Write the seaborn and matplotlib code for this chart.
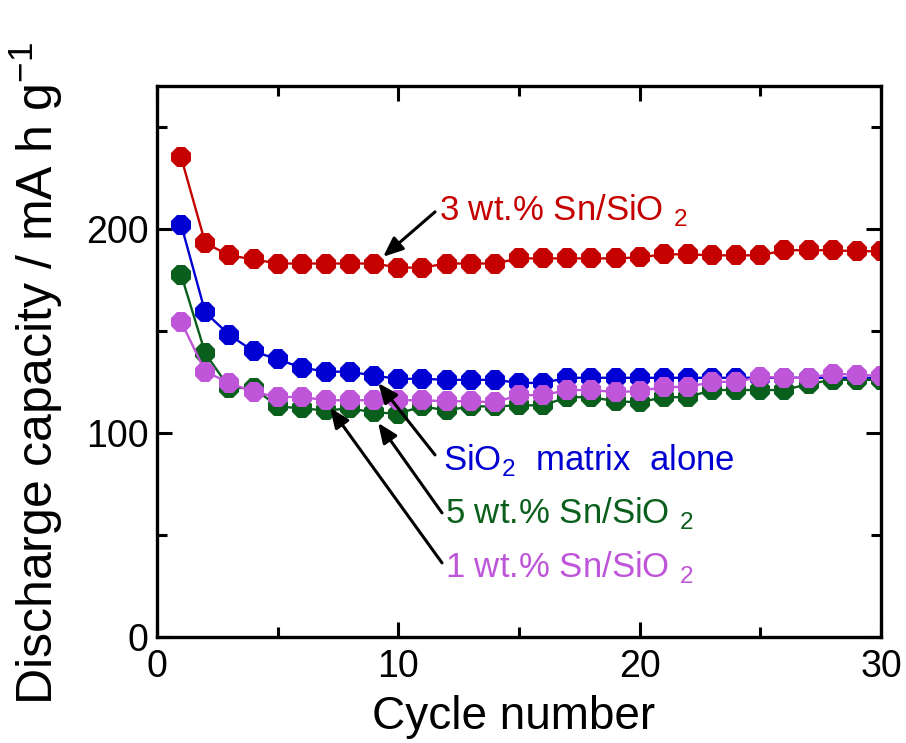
import numpy as np
import pandas as pd
import seaborn as sns
import matplotlib
matplotlib.use("Agg")
import matplotlib.pyplot as plt
from matplotlib import font_manager

# Discharge capacity (mA h g^-1) versus cycle number for each electrode
cycles = list(range(1, 31))
sn3 = [235, 193, 187, 185, 183, 183, 183, 183, 183, 181, 181, 183, 183, 183, 185.5,
       185.5, 185.5, 185.5, 185.5, 186, 187.5, 187.5, 187, 187, 187, 189.5, 189.5, 189.5, 189, 189]
sio2 = [202, 159, 148, 140, 136, 132, 130, 130, 128, 126.5, 126.5, 126, 126, 126, 124.5,
        124.5, 127, 127, 127, 127, 127, 127, 127, 127, 127, 127, 127, 127, 127, 127]
sn5 = [177.5, 139, 122, 122, 113, 112, 111, 112, 110, 109.5, 113, 111, 113, 113, 113.5,
       113.5, 117.5, 117.5, 115.5, 115, 117.5, 117.5, 121, 121, 121, 121, 124, 126, 126, 126]
sn1 = [154.5, 130, 124.5, 120, 117.6, 117.6, 116, 116, 116, 116, 116, 115.5, 115.5, 115, 118.5,
       118.5, 121, 121, 120, 120.5, 122.5, 122.5, 125, 125, 127.5, 127, 127, 129, 128.5, 128]

series_names = ["sio2", "sn5", "sn1", "sn3"]
series_values = [sio2, sn5, sn1, sn3]
series_colors = ["#0000D2", "#0A5F1C", "#BF55D8", "#C40000"]

label_texts = [
    "SiO$_\\mathregular{2}$  matrix  alone",
    "5 wt.% Sn/SiO $_\\mathregular{2}$",
    "1 wt.% Sn/SiO $_\\mathregular{2}$",
    "3 wt.% Sn/SiO $_\\mathregular{2}$",
]
# text anchor, arrow tail and arrow head, all in data units
label_pos = [(11.85, 86.5), (11.95, 60.8), (11.95, 34.3), (11.70, 209.0)]
arrow_tail = [(11.52, 89.2), (11.81, 60.8), (11.81, 36.3), (11.52, 208.3)]
arrow_head = [(9.17, 124.4), (9.16, 104.9), (7.17, 112.3), (9.37, 186.3)]

df = pd.DataFrame({
    "cycle": np.tile(cycles, len(series_names)),
    "capacity": np.concatenate(series_values),
    "sample": np.repeat(series_names, len(cycles)),
})

sns.set_theme(style="ticks")
available = {f.name for f in font_manager.fontManager.ttflist}
narrow = "Liberation Sans Narrow" if "Liberation Sans Narrow" in available else "Liberation Sans"
plt.rcParams["font.family"] = ["Liberation Sans", "DejaVu Sans"]
plt.rcParams["text.color"] = "black"
plt.rcParams["axes.labelcolor"] = "black"
plt.rcParams["xtick.color"] = "black"
plt.rcParams["ytick.color"] = "black"

fig = plt.figure(figsize=(9.06, 7.43), dpi=100)
ax = fig.add_axes([0.1733, 0.1427, 0.7991, 0.7416])

sns.lineplot(
    data=df, x="cycle", y="capacity", hue="sample", style="sample",
    hue_order=series_names, style_order=series_names,
    palette=dict(zip(series_names, series_colors)),
    markers={n: "8" for n in series_names}, dashes=False,
    markersize=15.5, markeredgewidth=0, linewidth=1.7,
    legend=False, ax=ax,
)

ax.set_xlim(0, 30)
ax.set_ylim(0, 270)
ax.set_xticks([0, 10, 20, 30])
ax.set_xticks([5, 15, 25], minor=True)
ax.set_yticks([0, 100, 200])
ax.set_yticks([50, 150, 250], minor=True)

tick_size = 29 if narrow != "Liberation Sans" else 27
tick_font = {"family": [narrow, "Liberation Sans"], "size": tick_size, "color": "black"}
ax.set_xticklabels(["0", "10", "20", "30"], fontdict=tick_font)
ax.set_yticklabels(["0", "100", "200"], fontdict=tick_font)

ax.tick_params(which="both", direction="in", top=True, right=True, width=2.2,
               color="black", labelcolor="black")
ax.tick_params(which="major", length=11, pad=6)
ax.tick_params(axis="x", which="major", pad=9)
ax.tick_params(which="minor", length=7)
for s in ax.spines.values():
    s.set_linewidth(2.4)
    s.set_color("black")

ax.set_xlabel("Cycle number", fontsize=33, color="black")
ax.set_ylabel("Discharge capacity / mA h g$^{\\mathregular{-1}}$", fontsize=36, color="black")
ax.xaxis.set_label_coords(0.493, -0.105)
ax.yaxis.set_label_coords(-0.127, 0.478)

text_size = 27 if narrow != "Liberation Sans" else 25
for txt, pos, tail, head, col in zip(label_texts, label_pos, arrow_tail, arrow_head, series_colors):
    ax.annotate("", xy=head, xytext=tail,
                arrowprops=dict(arrowstyle="-|>,head_length=1.0,head_width=0.42",
                                color="black", lw=2.2, shrinkA=0, shrinkB=0))
    ax.text(pos[0], pos[1], txt, color=col, fontsize=text_size, ha="left", va="center",
            family=[narrow, "Liberation Sans"])

fig.savefig("out.png", dpi=100)
